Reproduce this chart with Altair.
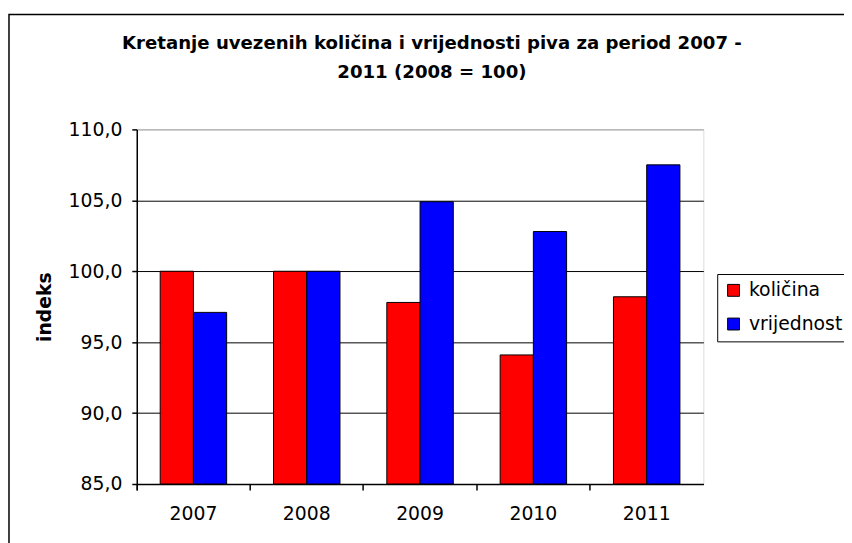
import altair as alt
import pandas as pd

years = ["2007", "2008", "2009", "2010", "2011"]
kolicina = [100.0, 100.0, 97.8, 94.1, 98.2]
vrijednost = [97.1, 100.0, 104.9, 102.8, 107.5]
series = ["količina", "vrijednost"]
colors = ["#FF0000", "#0000FF"]
title_lines = ["Kretanje uvezenih količina i vrijednosti piva za period 2007 -", "2011 (2008 = 100)"]
y_title = "indeks"

rows = []
for i, yr in enumerate(years):
    rows.append({"godina": yr, "serija": series[0], "indeks": kolicina[i]})
    rows.append({"godina": yr, "serija": series[1], "indeks": vrijednost[i]})
df = pd.DataFrame(rows)

FONT = "DejaVu Sans"
W, H = 572, 358
FS = 19

bars = alt.Chart(df).mark_bar(stroke="black", strokeWidth=1).encode(
    x=alt.X("godina:N", sort=years, title=None,
            scale=alt.Scale(paddingInner=0, paddingOuter=0),
            axis=alt.Axis(bandPosition=0, tickExtra=True,
                          labelAngle=0, labelFontSize=FS, labelFont=FONT, labelColor="black",
                          labelPadding=15, tickSize=6, tickColor="black", tickWidth=1.5,
                          domainColor="black", domainWidth=1.5, grid=False)),
    xOffset=alt.XOffset("serija:N", sort=series,
                        scale=alt.Scale(paddingInner=0, paddingOuter=0.705)),
    y=alt.Y("indeks:Q", title=y_title,
            scale=alt.Scale(domain=[85, 110], zero=False, nice=False),
            axis=alt.Axis(values=[85, 90, 95, 100, 105, 110],
                          labelExpr="replace(format(datum.value, '.1f'), '.', ',')",
                          labelFontSize=FS, labelFont=FONT, labelColor="black", labelPadding=10,
                          tickSize=5, tickColor="black", tickWidth=1.5,
                          domainColor="black", domainWidth=1.5,
                          grid=True,
                          gridColor=alt.condition("datum.value == 110", alt.value("#999999"), alt.value("black")),
                          gridWidth=1,
                          titleFont=FONT, titleFontSize=FS, titleFontWeight="bold", titleColor="black",
                          titleAngle=270, titleX=-93, titleY=H / 2, titleAlign="center",
                          titleBaseline="middle")),
    y2=alt.datum(85),
    color=alt.Color("serija:N", sort=series,
                    scale=alt.Scale(domain=series, range=colors),
                    legend=alt.Legend(title=None, orient="none", legendX=586, legendY=146,
                                      strokeColor="black", padding=7, symbolType="square",
                                      symbolSize=144, symbolStrokeColor="black", symbolStrokeWidth=1,
                                      labelFont=FONT, labelFontSize=FS, labelColor="black",
                                      labelOffset=6, rowPadding=14, fillColor="white")),
)

border = alt.Chart(alt.Data(values=[{"a": 1}])).mark_rect(
    fill=None, stroke="black", strokeWidth=1.5
).encode(
    x=alt.value(-129), x2=alt.value(900), y=alt.value(-116), y2=alt.value(700)
)

chart = alt.layer(bars, border).properties(
    width=W, height=H,
    autosize=alt.AutoSizeParams(type="none"),
    padding={"left": 130, "top": 120, "right": 142, "bottom": 57},
    title=alt.Title(title_lines, font=FONT, fontSize=18.3, fontWeight="bold", color="black",
                    lineHeight=29, frame="group", anchor="middle", dx=12, dy=107, offset=38),
).configure_view(
    stroke="#999999", strokeWidth=2
).configure(background="white")

chart.save("out.html", embed_options={"renderer": "svg", "actions": False})
